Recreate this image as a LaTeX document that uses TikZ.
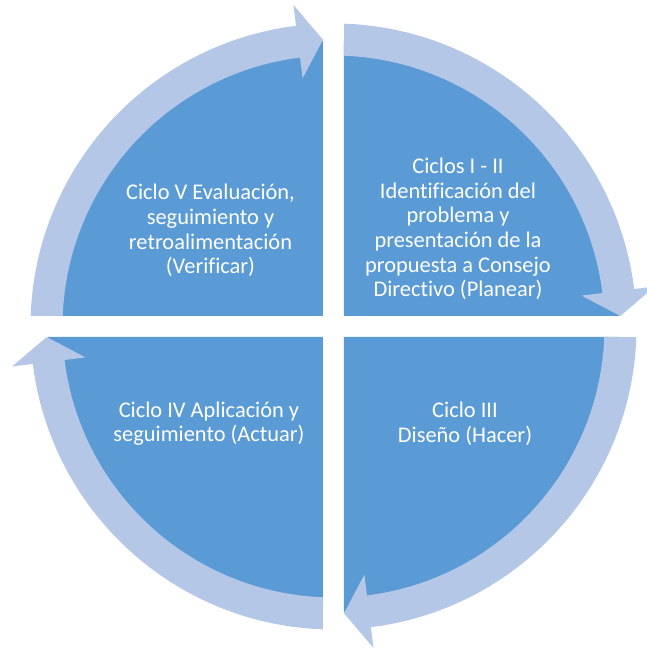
\documentclass[tikz,border=0pt]{standalone}
\usepackage{fontspec}
\setmainfont[Ligatures=NoCommon]{Carlito}
\definecolor{cuadro}{HTML}{5B9BD5}
\definecolor{flecha}{HTML}{B4C7E7}
\tikzset{
  etiqueta/.style={text=white, align=center, font=\fontsize{11.2}{12.3}\selectfont},
}
\begin{document}
\begin{tikzpicture}[x=0.5pt,y=0.5pt]
\useasboundingbox (-333.5,-321.5) rectangle (313.5,326.5);
\clip (-333.5,-321.5) rectangle (313.5,326.5);
% cuadrantes
\fill[cuadro] (10.5,10.5) -- (10.5,285.5) arc[start angle=90,end angle=0,radius=275] -- cycle;
\fill[cuadro] (10.5,-10.5) -- (285.5,-10.5) arc[start angle=0,end angle=-90,radius=275] -- cycle;
\fill[cuadro] (-10.5,-10.5) -- (-10.5,-285.5) arc[start angle=-90,end angle=-180,radius=275] -- cycle;
\fill[cuadro] (-10.5,10.5) -- (-285.5,10.5) arc[start angle=180,end angle=90,radius=275] -- cycle;
% flechas del ciclo
\foreach \r in {0,-90,-180,-270}
  \fill[flecha,rotate=\r] (177.78:271) arc[start angle=177.78,end angle=97.1,radius=271]
    -- (97.1:250) -- (92.1:287) -- (97.1:324) -- (97.1:303)
    arc[start angle=97.1,end angle=178.01,radius=303] -- cycle;
% textos
\node[etiqueta] (planear) at (124.5,97.5) {Ciclos I - II\\Identificación del\\problema y\\presentación de la\\propuesta a Consejo\\Directivo (Planear)};
\node[etiqueta] (hacer) at (131.5,-97) {Ciclo III\\Diseño (Hacer)};
\node[etiqueta] (actuar) at (-124.5,-97) {Ciclo IV Aplicación y\\seguimiento (Actuar)};
\node[etiqueta] (verificar) at (-123,96) {Ciclo V Evaluación,\\seguimiento y\\retroalimentación\\(Verificar)};
\end{tikzpicture}
\end{document}
